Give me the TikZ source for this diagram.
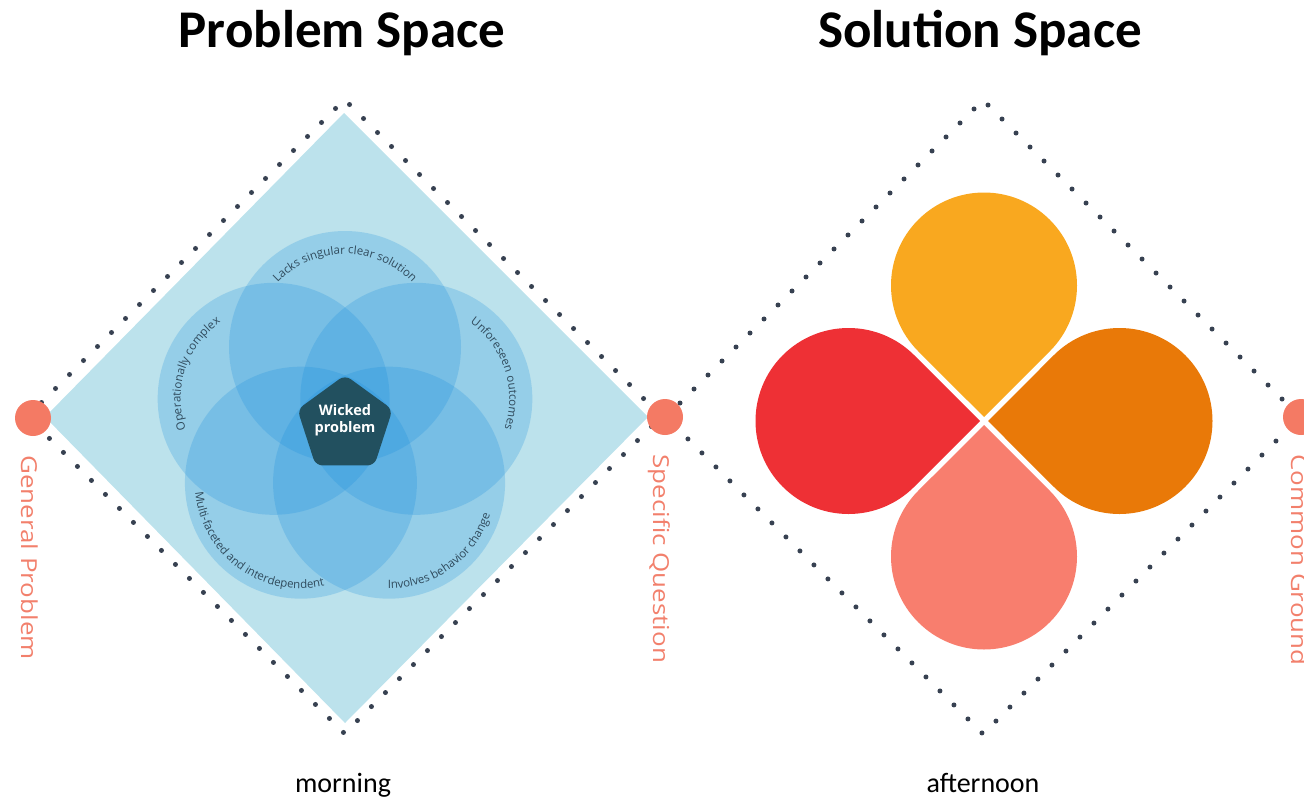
\documentclass[tikz,border=0pt]{standalone}
\usepackage{fontspec}
\setmainfont{Carlito}
\newfontfamily\sidefont{Open Sans}
\newfontfamily\vennfont{Open Sans}
\usetikzlibrary{calc,positioning,decorations.text}
\definecolor{diamondblue}{HTML}{BCE2EC}
\definecolor{vennblue}{HTML}{168CDE}
\definecolor{wicked}{HTML}{22505F}
\definecolor{dotgray}{HTML}{374151}
\definecolor{salmon}{HTML}{F47A64}
\definecolor{sidetext}{HTML}{F2806C}
\definecolor{arctext}{HTML}{2F4A5C}
\definecolor{petalA}{HTML}{F9A81F}
\definecolor{petalB}{HTML}{EE3035}
\definecolor{petalC}{HTML}{E97908}
\definecolor{petalD}{HTML}{F87E6E}
\newcommand{\vennsize}{\vennfont\fontsize{11.5}{13}\selectfont}

\begin{document}
\begin{tikzpicture}
[x=1pt,y=1pt,
 dots/.style={dotgray,line width=5pt,line cap=round,dash pattern=on 0pt off 19.8pt},
 venn/.style={fill=vennblue,fill opacity=0.23},
 arclabel/.style={decorate,decoration={text along path,text align=center,text color=arctext,text={|\vennsize|#1}}},
 point/.style={circle,fill=salmon,minimum size=36pt,inner sep=0pt},
 sidelabel/.style={rotate=-90,anchor=base west,text=sidetext,font=\sidefont\fontsize{22}{26}\selectfont,inner sep=0pt},
 title/.style={font=\bfseries\fontsize{53}{60}\selectfont,anchor=base},
 time/.style={font=\fontsize{28}{32}\selectfont,anchor=base}]

\useasboundingbox (0,0) rectangle (1304,-798);

% the coordinates of the diamonds
\coordinate (L) at (344.5,-416.5);
\coordinate (R) at (983,-417);
\coordinate (V) at (345,-422);
\coordinate (F) at (984,-421);

% the blue diamond
\fill[diamondblue] (45,-417) -- (344,-113) -- (648,-417) -- (345,-723) -- cycle;

% the dotted diamonds
\draw[dots] ($(L)+(-317,0)$) -- ($(L)+(0,317)$) -- ($(L)+(317,0)$) -- ($(L)+(0,-317)$) -- cycle;
\draw[dots] ($(R)+(-317,0)$) -- ($(R)+(0,317)$) -- ($(R)+(317,0)$) -- ($(R)+(0,-317)$) -- cycle;

% the venn circles
\foreach \a/\n in {90/1,162/2,234/3,306/4,18/5}{
  \coordinate (C\n) at ($(V)+(\a:75)$);
  \fill[venn] (C\n) circle[radius=116];
}

% the labels round the circles
\path[arclabel={Lacks singular clear solution}] ($(C1)+(155:93)$) arc[start angle=155,end angle=25,radius=93];
\path[arclabel={Operationally complex}] ($(C2)+(227:93)$) arc[start angle=227,end angle=97,radius=93];
\path[arclabel={Unforeseen outcomes}] ($(C5)+(83:93)$) arc[start angle=83,end angle=-47,radius=93];
\path[arclabel={Multi-faceted and interdependent}] ($(C3)+(159:106)$) arc[start angle=159,end angle=309,radius=106];
\path[arclabel={Involves behavior change}] ($(C4)+(231:106)$) arc[start angle=231,end angle=381,radius=106];

% the wicked problem
\coordinate (P) at (345,-425);
\fill[wicked,rounded corners=7pt] ($(P)+(90:50)$) -- ($(P)+(162:50)$) -- ($(P)+(234:50)$) -- ($(P)+(306:50)$) -- ($(P)+(18:50)$) -- cycle;
\node[white,align=center,font=\vennfont\bfseries\fontsize{14.5}{17}\selectfont] (wp) at (345,-420) {Wicked\\problem};

% the petals
\foreach \a/\col in {90/petalA,180/petalB,0/petalC,270/petalD}{
  \coordinate (T) at ($(F)+(\a:4)$);
  \coordinate (Q) at ($(F)+(\a:135.5)$);
  \fill[\col] (T) -- ($(Q)+(\a-135:93)$) arc[start angle=\a-135,end angle=\a+135,radius=93] -- cycle;
}

% the end points
\node[point] (gp) at (33,-418) {};
\node[point] (sq) at (665,-417) {};
\node[point] (cg) at (1301,-417) {};

% labelling the end points
\node[sidelabel] (gplabel) at ($(gp.south)+(-12,-19)$) {\scalebox{1.18}[1]{General Problem}};
\node[sidelabel] (sqlabel) at ($(sq.south)+(-12,-19)$) {\scalebox{1.18}[1]{Specific Question}};
\node[sidelabel] (cglabel) at ($(cg.south)+(-10,-19)$) {\scalebox{1.18}[1]{Common Ground}};

% the titles
\node[title] (ps) at (342,-47) {Problem Space};
\node[title] (ss) at (980,-47) {Solution Space};
\node[time] (mo) at (343,-792) {morning};
\node[time] (af) at (983,-792) {afternoon};

\end{tikzpicture}
\end{document}
